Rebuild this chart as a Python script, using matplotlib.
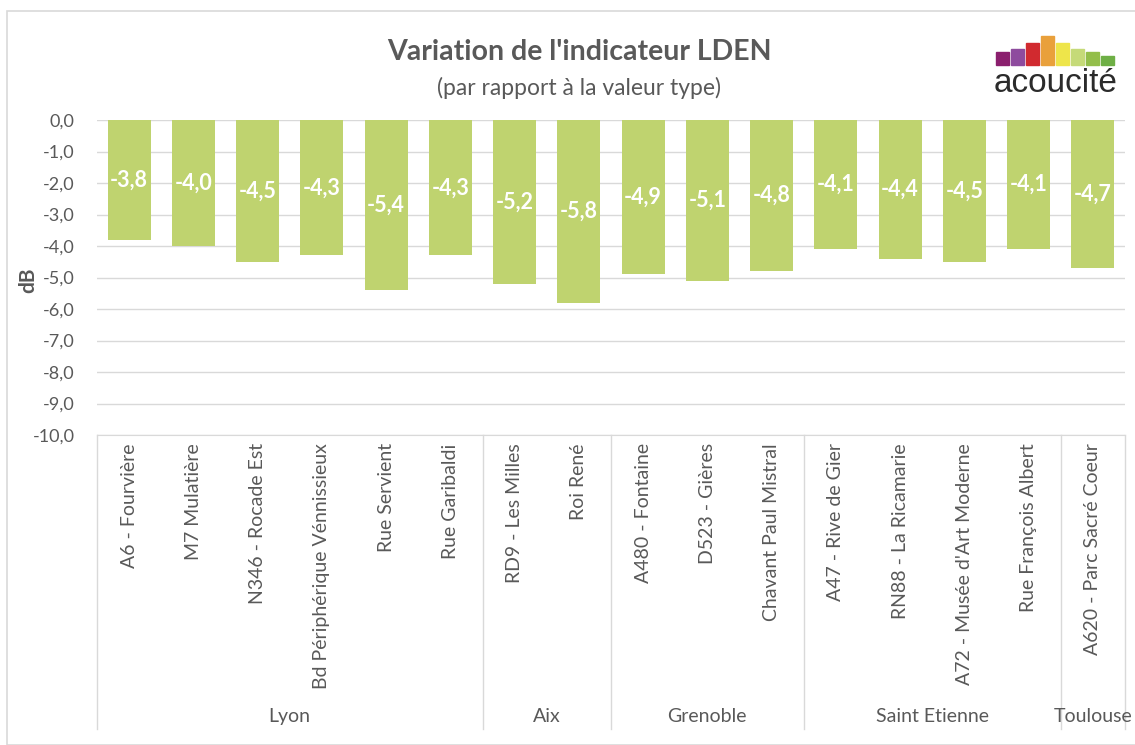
import matplotlib.pyplot as plt
from matplotlib.patches import Rectangle
import matplotlib.transforms as mtransforms

plt.rcParams['font.family'] = ['Lato', 'DejaVu Sans']

sites = ["A6 - Fourvière", "M7 Mulatière", "N346 - Rocade Est", "Bd Périphérique Vénnissieux",
         "Rue Servient", "Rue Garibaldi", "RD9 - Les Milles", "Roi René",
         "A480 - Fontaine", "D523 - Gières", "Chavant Paul Mistral",
         "A47 - Rive de Gier", "RN88 - La Ricamarie", "A72 - Musée d'Art Moderne",
         "Rue François Albert", "A620 - Parc Sacré Coeur"]
values = [-3.8, -4.0, -4.5, -4.3, -5.4, -4.3, -5.2, -5.8, -4.9, -5.1, -4.8,
          -4.1, -4.4, -4.5, -4.1, -4.7]
cities = ["Lyon", "Aix", "Grenoble", "Saint Etienne", "Toulouse"]
city_sizes = [6, 2, 3, 4, 1]

logo_colors = ["#8B1F6E", "#8E4B9E", "#D12A2F", "#E9A03B", "#EEE54A", "#C5DA78", "#93BE4A", "#6EAF45"]
logo_heights = [13, 16, 22, 29, 22, 16, 13, 9]

W, H = 1135, 745
fig = plt.figure(figsize=(W / 100, H / 100), dpi=100)
ax = fig.add_axes([97 / W, 1 - 435 / H, (1125 - 97) / W, (435 - 120) / H])

gray = "#595959"
x = list(range(len(sites)))
bars = ax.bar(x, values, width=0.67, color="#BFD36F", zorder=2)
for xi, v in zip(x, values):
    ax.text(xi, v / 2, f"{v:.1f}".replace(".", ","), ha="center", va="center",
            color="white", fontsize=15.5, fontweight="bold", zorder=3)

ax.set_xlim(-0.5, len(sites) - 0.5)
ax.set_ylim(-10, 0)
ax.set_yticks([-i for i in range(11)])
ax.set_yticklabels([f"{-i:.1f}".replace(".", ",") if i else "0,0" for i in range(11)],
                   color=gray, fontsize=13)
ax.tick_params(axis="y", length=0, pad=16)
ax.tick_params(axis="x", length=0, pad=6)
ax.set_xticks(x)
ax.set_xticklabels(sites, rotation=90, va="top", color=gray, fontsize=14)
ax.grid(axis="y", color="#D9D9D9", linewidth=1, zorder=0)
for s in ["left", "right", "top"]:
    ax.spines[s].set_visible(False)
ax.spines["bottom"].set_color("#D9D9D9")

fig.text(28 / W, 1 - 280 / H, "dB", rotation=90, ha="center", va="center",
         fontsize=15, fontweight="bold", color=gray)

# group separators and city labels
trans = mtransforms.blended_transform_factory(ax.transData, ax.transAxes)
bottom = -(729 - 435) / (435 - 120)
start = 0
ax.plot([-0.5, -0.5], [0, bottom], color="#D9D9D9", lw=1, transform=trans, clip_on=False)
for city, n in zip(cities, city_sizes):
    end = start + n
    ax.plot([end - 0.5, end - 0.5], [0, bottom], color="#D9D9D9", lw=1,
            transform=trans, clip_on=False)
    ax.text((start + end - 1) / 2, -(716 - 435) / (435 - 120), city, transform=trans,
            ha="center", va="center", color=gray, fontsize=14)
    start = end

# titles
fig.text(579 / W, 1 - 52 / H, "Variation de l'indicateur LDEN", ha="center", va="center",
         fontsize=20.5, fontweight="bold", color=gray)
fig.text(579 / W, 1 - 88 / H, "(par rapport à la valeur type)", ha="center", va="center",
         fontsize=16.5, color=gray)

# chart border
fig.patches.append(Rectangle((7 / W, 0), 1, 1 - 11 / H, transform=fig.transFigure,
                             fill=False, edgecolor="#D9D9D9", lw=1.2))

# logo
lx = 996
for c, h in zip(logo_colors, logo_heights):
    fig.patches.append(Rectangle((lx / W, 1 - 65 / H), 13 / W, h / H,
                                 transform=fig.transFigure, color=c))
    lx += 15
fig.text(1056 / W, 1 - 84 / H, "acoucité", ha="center", va="center", fontsize=24,
         color="#2B2B2B", family="Liberation Sans")

fig.savefig("out.png", dpi=100)
